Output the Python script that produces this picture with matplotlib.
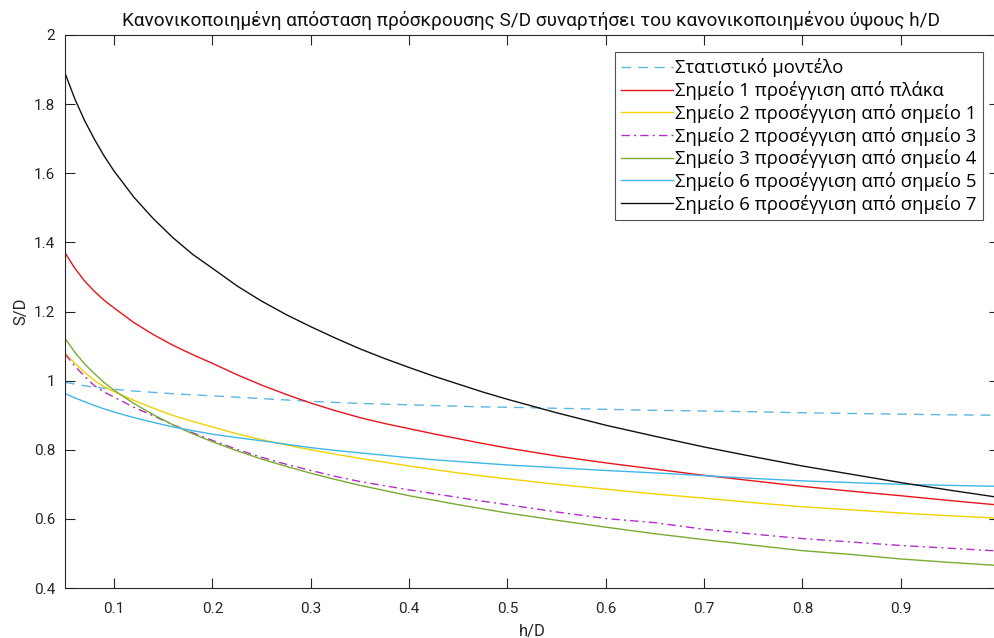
import matplotlib
matplotlib.use("Agg")
import matplotlib.pyplot as plt
from matplotlib import font_manager

# Normalised height h/D
h_d = [0.05, 0.06, 0.07, 0.08, 0.09, 0.10, 0.12, 0.14, 0.16, 0.18, 0.20,
       0.225, 0.25, 0.275, 0.30, 0.325, 0.35, 0.375, 0.40, 0.425, 0.45, 0.475, 0.50,
       0.55, 0.60, 0.65, 0.70, 0.75, 0.80, 0.85, 0.90, 0.95, 1.00]

# Normalised impact distance S/D for each approach
stat_model = [0.995, 0.990, 0.985, 0.981, 0.978, 0.975, 0.970, 0.966, 0.962, 0.959, 0.956,
              0.952, 0.948, 0.944, 0.940, 0.937, 0.934, 0.932, 0.930, 0.928, 0.926, 0.924, 0.923,
              0.920, 0.917, 0.914, 0.912, 0.910, 0.907, 0.905, 0.903, 0.901, 0.900]
p1_plate = [1.370, 1.325, 1.288, 1.258, 1.232, 1.210, 1.168, 1.133, 1.102, 1.075, 1.050,
            1.017, 0.987, 0.960, 0.935, 0.913, 0.893, 0.876, 0.861, 0.846, 0.832, 0.818, 0.805,
            0.782, 0.762, 0.744, 0.726, 0.710, 0.694, 0.680, 0.667, 0.653, 0.640]
p2_from1 = [1.080, 1.050, 1.024, 1.000, 0.982, 0.968, 0.943, 0.920, 0.899, 0.882, 0.866,
            0.846, 0.829, 0.814, 0.800, 0.787, 0.775, 0.764, 0.753, 0.743, 0.733, 0.724, 0.716,
            0.700, 0.686, 0.672, 0.660, 0.647, 0.635, 0.626, 0.617, 0.609, 0.602]
p2_from3 = [1.077, 1.042, 1.012, 0.985, 0.967, 0.952, 0.923, 0.898, 0.872, 0.849, 0.827,
            0.801, 0.778, 0.758, 0.740, 0.723, 0.708, 0.696, 0.684, 0.673, 0.662, 0.651, 0.641,
            0.620, 0.601, 0.589, 0.570, 0.556, 0.543, 0.533, 0.523, 0.515, 0.507]
p3_from4 = [1.122, 1.082, 1.048, 1.020, 0.994, 0.972, 0.934, 0.901, 0.872, 0.846, 0.823,
            0.797, 0.773, 0.752, 0.732, 0.714, 0.697, 0.682, 0.667, 0.654, 0.641, 0.629, 0.617,
            0.596, 0.576, 0.557, 0.540, 0.524, 0.508, 0.497, 0.484, 0.474, 0.465]
p6_from5 = [0.963, 0.950, 0.939, 0.928, 0.918, 0.909, 0.893, 0.879, 0.866, 0.855, 0.845,
            0.835, 0.826, 0.816, 0.806, 0.798, 0.791, 0.784, 0.777, 0.771, 0.766, 0.761, 0.756,
            0.748, 0.740, 0.733, 0.725, 0.717, 0.710, 0.705, 0.700, 0.697, 0.694]
p6_from7 = [1.890, 1.815, 1.752, 1.698, 1.649, 1.606, 1.531, 1.468, 1.413, 1.365, 1.325,
            1.274, 1.230, 1.191, 1.156, 1.123, 1.092, 1.064, 1.038, 1.013, 0.990, 0.967, 0.946,
            0.907, 0.871, 0.839, 0.808, 0.780, 0.753, 0.729, 0.705, 0.683, 0.662]

labels = ["Στατιστικό μοντέλο",
          "Σημείο 1 προέγγιση από πλάκα",
          "Σημείο 2 προσέγγιση από σημείο 1",
          "Σημείο 2 προσέγγιση από σημείο 3",
          "Σημείο 3 προσέγγιση από σημείο 4",
          "Σημείο 6 προσέγγιση από σημείο 5",
          "Σημείο 6 προσέγγιση από σημείο 7"]

x_ticks = [0.1, 0.2, 0.3, 0.4, 0.5, 0.6, 0.7, 0.8, 0.9]
x_tick_labels = ["0.1", "0.2", "0.3", "0.4", "0.5", "0.6", "0.7", "0.8", "0.9"]
y_ticks = [0.4, 0.6, 0.8, 1.0, 1.2, 1.4, 1.6, 1.8, 2.0]
y_tick_labels = ["0.4", "0.6", "0.8", "1", "1.2", "1.4", "1.6", "1.8", "2"]

available = {f.name for f in font_manager.fontManager.ttflist}
base_font = "Roboto" if "Roboto" in available else "DejaVu Sans"
legend_font = "Open Sans" if "Open Sans" in available else base_font

axis_color = "#262626"
plt.rcParams["font.family"] = [base_font, "DejaVu Sans"]

fig = plt.figure(figsize=(9.94, 6.38), dpi=100)
ax = fig.add_axes([65 / 994, 1 - 588 / 638, 934 / 994, 553 / 638])

lw = 1.0
ax.plot(h_d, stat_model, color="#5BB8E0", lw=lw, dashes=(7, 5), label=labels[0])
ax.plot(h_d, p1_plate, color="#E8141C", lw=lw, label=labels[1])
ax.plot(h_d, p2_from1, color="#F2D100", lw=lw, label=labels[2])
ax.plot(h_d, p2_from3, color="#B02FC8", lw=lw, dashes=(6, 3, 1.5, 3), label=labels[3])
ax.plot(h_d, p3_from4, color="#77AC30", lw=lw, label=labels[4])
ax.plot(h_d, p6_from5, color="#3FB6E8", lw=lw, label=labels[5])
ax.plot(h_d, p6_from7, color="#111111", lw=lw, label=labels[6])

ax.set_xlim(0.05, 1.0)
ax.set_ylim(0.4, 2.0)
ax.set_xticks(x_ticks)
ax.set_xticklabels(x_tick_labels)
ax.set_yticks(y_ticks)
ax.set_yticklabels(y_tick_labels)
ax.tick_params(direction="in", length=7, width=0.8, color=axis_color,
               labelcolor=axis_color, labelsize=11, top=True, right=True)
ax.tick_params(axis="x", pad=10)
ax.tick_params(axis="y", pad=7)
for s in ax.spines.values():
    s.set_color(axis_color)
    s.set_linewidth(0.8)

ax.set_xlabel("h/D", fontsize=12, color=axis_color, labelpad=6)
ax.set_ylabel("S/D", fontsize=12, color=axis_color, labelpad=4)
fig.text(531 / 994, 1 - 20 / 638,
         "Κανονικοποιημένη απόσταση πρόσκρουσης S/D συναρτήσει του κανονικοποιημένου ύψους h/D",
         ha="center", va="center", fontsize=13.7, color="#111111")

leg = ax.legend(loc="upper right", bbox_to_anchor=(983 / 994, 1 - 52 / 638),
                bbox_transform=fig.transFigure, borderaxespad=0, frameon=True,
                fancybox=False, edgecolor=axis_color, handlelength=2.8,
                handletextpad=0.1, labelspacing=0.2, borderpad=0.35,
                prop={"family": [legend_font, "DejaVu Sans"], "size": 13.3})
leg.get_frame().set_linewidth(0.8)

fig.savefig("out.png", dpi=100)
